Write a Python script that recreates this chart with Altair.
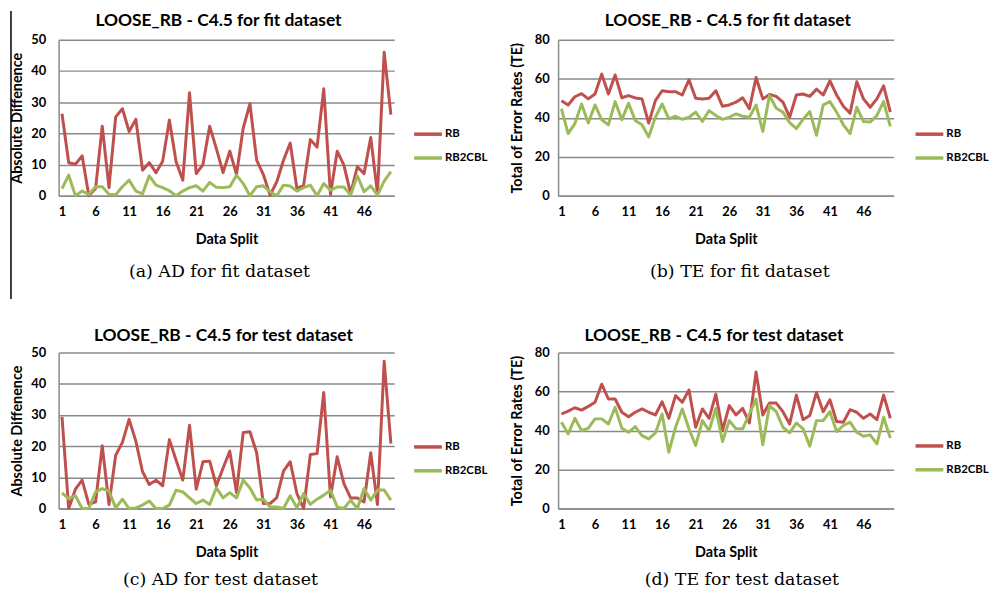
import altair as alt
import pandas as pd

SPLITS = list(range(1, 51))
X_TICKS = [1, 6, 11, 16, 21, 26, 31, 36, 41, 46]
SERIES = ["RB", "RB2CBL"]
COLORS = ["#C0504D", "#9BBB59"]

AD_FIT_RB = [26.3, 10.6, 10.1, 12.8, 0.0, 2.3, 22.3, 2.6, 25.3, 27.9, 20.6, 24.5, 8.2, 10.6, 7.4,
             11.1, 24.3, 10.9, 5.0, 33.0, 7.1, 10.0, 22.3, 15.1, 7.4, 14.3, 6.8, 21.7, 29.5, 11.4,
             6.8, 0.2, 4.5, 11.4, 16.9, 2.3, 3.4, 18.0, 15.6, 34.3, 0.4, 14.3, 9.8, 0.7, 9.3,
             7.1, 18.7, 0.7, 46.0, 26.0]
AD_FIT_CBL = [2.3, 6.6, 0.0, 1.5, 0.4, 2.9, 2.9, 0.5, 0.3, 2.9, 5.0, 1.5, 0.6, 6.4, 3.4,
              2.6, 1.6, 0.0, 1.5, 2.6, 3.2, 1.5, 4.3, 2.7, 2.6, 2.9, 6.6, 3.9, 0.0, 2.9,
              3.2, 1.3, 0.0, 3.4, 3.1, 1.5, 2.6, 3.4, 0.0, 3.9, 1.8, 2.8, 2.8, 0.2, 6.4,
              1.3, 3.2, 0.2, 4.7, 7.7]
TE_FIT_RB = [48.8, 46.6, 50.8, 52.4, 49.7, 52.2, 62.4, 52.2, 62.0, 50.3, 51.4, 50.2, 49.7, 37.3, 48.8,
             53.9, 53.4, 53.4, 51.7, 59.5, 50.0, 49.7, 50.0, 53.9, 45.9, 46.6, 48.0, 50.3, 44.6, 60.7,
             49.7, 52.0, 51.0, 48.0, 40.3, 51.7, 52.2, 51.0, 54.7, 51.7, 59.0, 51.7, 45.9, 42.4, 58.5,
             49.7, 45.4, 49.7, 56.4, 42.9]
TE_FIT_CBL = [44.6, 31.9, 37.0, 47.1, 37.3, 46.6, 39.0, 36.4, 48.3, 39.0, 47.5, 38.6, 36.4, 30.2, 40.3,
              47.1, 39.5, 40.8, 39.2, 40.3, 42.9, 38.1, 43.7, 41.2, 39.2, 40.3, 42.0, 40.8, 40.3, 46.6,
              33.0, 51.4, 44.9, 42.9, 37.5, 34.4, 39.2, 43.2, 31.0, 46.6, 48.3, 42.9, 36.4, 31.9, 45.4,
              38.1, 37.8, 41.2, 48.3, 35.6]
AD_TEST_RB = [29.4, 0.0, 6.2, 9.1, 1.3, 2.1, 20.1, 1.3, 17.1, 21.2, 28.6, 21.6, 11.8, 7.7, 9.1,
              7.3, 22.1, 15.5, 9.1, 26.7, 6.2, 15.0, 15.2, 7.3, 13.0, 18.4, 5.1, 24.4, 24.6, 17.9,
              1.6, 1.6, 3.5, 12.0, 15.0, 4.8, 0.0, 17.3, 17.6, 37.2, 3.7, 16.6, 8.0, 3.4, 3.4,
              2.1, 17.9, 1.3, 47.2, 20.8]
AD_TEST_CBL = [5.0, 3.2, 4.1, 0.0, 0.0, 5.3, 6.4, 5.6, 0.2, 3.0, 0.0, 0.2, 1.1, 2.4, 0.0,
               0.0, 1.1, 5.9, 5.3, 3.4, 1.6, 2.7, 1.3, 6.6, 3.4, 5.1, 3.4, 9.1, 6.6, 2.7,
               3.0, 0.5, 0.5, 0.0, 4.1, 0.2, 4.8, 1.3, 3.0, 4.3, 5.9, 0.5, 0.0, 2.7, 0.0,
               6.4, 2.7, 5.9, 5.9, 2.7]
TE_TEST_RB = [48.5, 50.0, 51.7, 50.5, 52.4, 54.5, 63.8, 56.2, 56.2, 49.4, 47.1, 49.4, 51.1, 49.4, 48.0,
              54.8, 46.3, 57.9, 54.5, 60.8, 41.7, 51.1, 46.3, 58.7, 40.0, 52.8, 48.0, 51.4, 43.9, 70.1,
              48.0, 54.1, 54.1, 49.7, 43.4, 58.2, 45.6, 47.7, 59.6, 49.7, 55.8, 44.6, 44.3, 50.7, 49.4,
              46.3, 48.5, 45.6, 58.2, 46.3]
TE_TEST_CBL = [44.3, 38.3, 46.3, 40.0, 41.2, 46.0, 46.0, 43.4, 51.9, 41.2, 39.1, 42.0, 37.4, 35.7, 38.8,
               48.5, 28.9, 41.7, 51.1, 40.9, 32.3, 45.1, 40.0, 51.4, 34.4, 45.1, 40.9, 40.9, 48.5, 56.2,
               32.7, 52.8, 49.7, 41.7, 38.8, 43.9, 40.9, 32.0, 45.1, 45.1, 49.7, 39.5, 42.6, 44.3, 39.1,
               37.1, 37.8, 33.2, 46.8, 36.1]

W, H = 338, 157
ONE = pd.DataFrame({"k": [0]})


def text_layer(txt, x, y, **kw):
    return alt.Chart(ONE).mark_text(color="black", **kw).encode(
        x=alt.value(x), y=alt.value(y), text=alt.value(txt))


def panel(rb, cbl, ymax, ystep, ytitle, title, title_x, title_y, caption, cap_x, cap_y,
          leg_x, leg_y, label_pad, frame_line=False):
    df = pd.DataFrame({
        "Data Split": SPLITS + SPLITS,
        "Value": rb + cbl,
        "Series": [SERIES[0]] * 50 + [SERIES[1]] * 50,
    })
    lines = alt.Chart(df).mark_line(strokeWidth=3, strokeJoin="round").encode(
        x=alt.X("Data Split:Q",
                scale=alt.Scale(domain=[0.5, 50.5], nice=False, zero=False),
                axis=alt.Axis(values=X_TICKS, grid=False, title="Data Split", labelPadding=10,
                              titleY=44, titleBaseline="middle")),
        y=alt.Y("Value:Q",
                scale=alt.Scale(domain=[0, ymax], nice=False),
                axis=alt.Axis(values=list(range(0, ymax + 1, ystep)), title=ytitle,
                              labelPadding=label_pad, titleX=-41, titleY=H / 2,
                              titleAlign="center", titleBaseline="middle")),
        color=alt.Color("Series:N", scale=alt.Scale(domain=SERIES, range=COLORS), legend=None),
    )
    layers = [lines]
    for i, (name, col) in enumerate(zip(SERIES, COLORS)):
        yy = leg_y + 24 * i
        layers.append(alt.Chart(ONE).mark_rule(strokeWidth=3.5, color=col).encode(
            x=alt.value(leg_x), x2=alt.value(leg_x + 28), y=alt.value(yy)))
        layers.append(text_layer(name, leg_x + 31, yy, align="left", baseline="middle",
                                 font="Lato", fontSize=11.5, fontWeight="bold"))
    layers.append(text_layer(title, title_x, title_y, align="center", baseline="middle",
                             font="Lato", fontSize=17.5, fontWeight="bold"))
    layers.append(text_layer(caption, cap_x, cap_y, align="center", baseline="middle",
                             font="DejaVu Serif", fontSize=17.5))
    if frame_line:
        layers.append(alt.Chart(ONE).mark_rule(strokeWidth=1.5, color="black").encode(
            x=alt.value(-48), y=alt.value(-29), y2=alt.value(261)))
    return alt.layer(*layers).properties(width=W, height=H)


a = panel(AD_FIT_RB, AD_FIT_CBL, 50, 10, "Absolute Diffenence",
          "LOOSE_RB - C4.5 for fit dataset", 161, -19, "(a) AD for fit dataset", 162, 234,
          358, 95, 13, frame_line=True)
b = panel(TE_FIT_RB, TE_FIT_CBL, 80, 20, "Total of Error Rates (TE)",
          "LOOSE_RB - C4.5 for fit dataset", 171, -19, "(b) TE for fit dataset", 183, 234,
          360, 95, 9)
c = panel(AD_TEST_RB, AD_TEST_CBL, 50, 10, "Absolute Diffenence",
          "LOOSE_RB - C4.5 for test dataset", 166, -17, "(c) AD for test dataset", 163, 229,
          358, 95, 13)
d = panel(TE_TEST_RB, TE_TEST_CBL, 80, 20, "Total of Error Rates (TE)",
          "LOOSE_RB - C4.5 for test dataset", 157, -17, "(d) TE for test dataset", 185, 229,
          360, 94, 9)

chart = alt.concat(a, b, c, d, columns=2, spacing={"row": 158, "column": 165},
                   bounds="flush").properties(
    padding={"left": 2, "top": 0, "right": 0, "bottom": 0},
    background="white",
).configure_axis(
    labelFont="Lato", labelFontSize=13, labelFontWeight="bold", labelColor="black",
    titleFont="Lato", titleFontSize=14.5, titleFontWeight="bold", titleColor="black",
    domainColor="#8a8a8a", domainWidth=1.5, gridColor="#8a8a8a", gridWidth=1.5,
    gridOpacity=1, ticks=False,
).configure_view(stroke=None)

chart.save("out.html", embed_options={"renderer": "svg", "actions": False})
